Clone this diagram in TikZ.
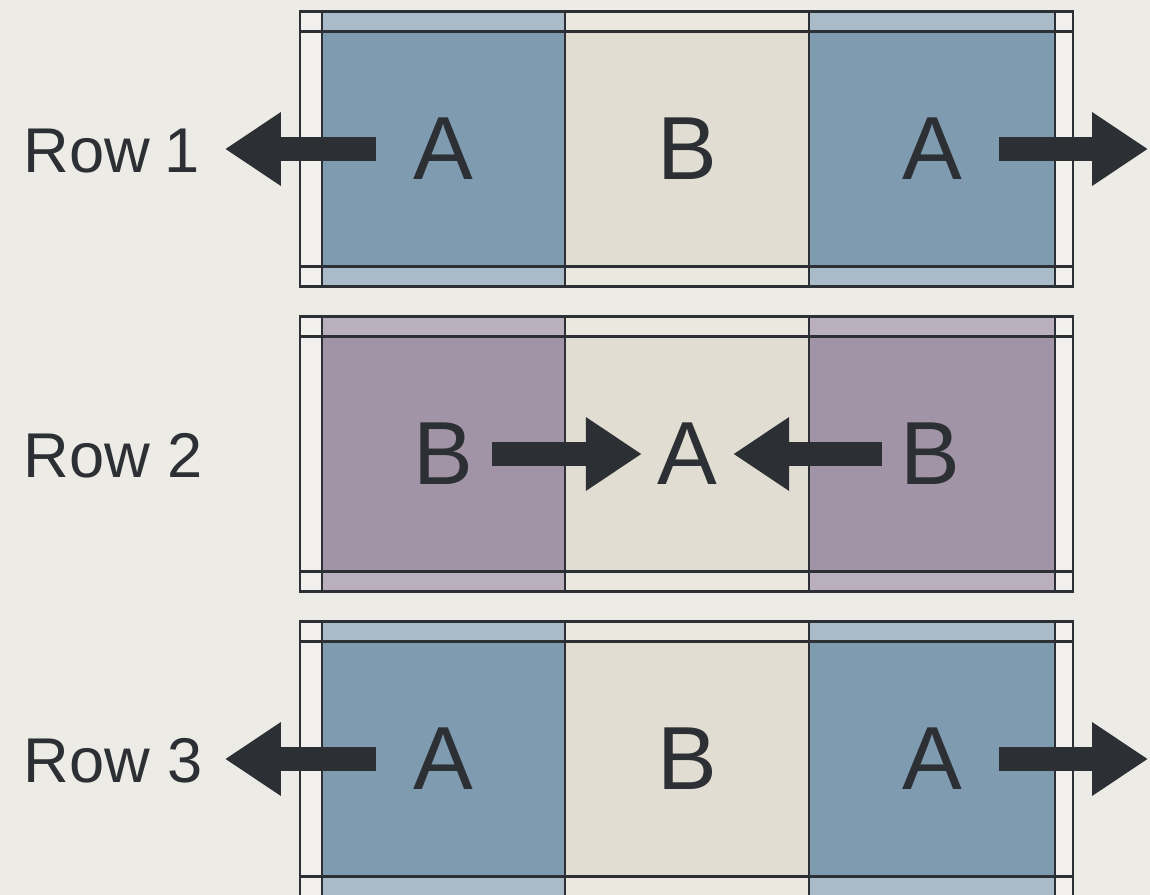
\documentclass[tikz,border=0pt]{standalone}
\usepackage{fontspec}
\setmainfont{Liberation Sans}
\usetikzlibrary{arrows.meta}
\definecolor{paper}{HTML}{ECEBE6}
\definecolor{ink}{HTML}{2C2F33}
\definecolor{strip}{HTML}{F1F0EC}
\definecolor{steel}{HTML}{7F9BAF}
\definecolor{steelband}{HTML}{A9BBC8}
\definecolor{plum}{HTML}{A194A6}
\definecolor{plumband}{HTML}{BAAFBC}
\definecolor{cream}{HTML}{E2DDD2}
\definecolor{creamband}{HTML}{EBE8E0}

\begin{document}
\begin{tikzpicture}[x=0.02cm,y=-0.02cm,
    letter/.style={inner sep=0pt,text=ink,font=\fontsize{51}{60}\selectfont},
    rowlabel/.style={inner sep=0pt,anchor=west,text=ink,font=\fontsize{36}{42}\selectfont},
    push/.style={draw=ink,line width=0.48cm,-{Triangle[length=1.12cm,width=1.4cm]}},
    frame/.style={draw=ink,line width=1.5pt}]
  \useasboundingbox (0,0) rectangle (1150,895);
  \fill[paper] (0,0) rectangle (1150,895);

  % the three frames
  \foreach \yc/\side/\sideband in {149/steel/steelband, 454/plum/plumband, 759/steel/steelband} {
    \fill[strip] (300,\yc-137.5) rectangle (1073,\yc+137.5);
    \fill[\sideband] (322,\yc-137.5) rectangle (565,\yc+137.5);
    \fill[creamband] (565,\yc-137.5) rectangle (809,\yc+137.5);
    \fill[\sideband] (809,\yc-137.5) rectangle (1055,\yc+137.5);
    \fill[\side] (322,\yc-117.5) rectangle (565,\yc+117.5);
    \fill[cream] (565,\yc-117.5) rectangle (809,\yc+117.5);
    \fill[\side] (809,\yc-117.5) rectangle (1055,\yc+117.5);
    \draw[frame] (300,\yc-137.5) rectangle (1073,\yc+137.5);
    \draw[frame] (300,\yc-117.5) -- (1073,\yc-117.5)
                 (300,\yc+117.5) -- (1073,\yc+117.5);
    \foreach \xl in {322,565,809,1055}
      \draw[frame] (\xl,\yc-137.5) -- (\xl,\yc+137.5);
  }

  % row 1
  \node[rowlabel] (lab1) at (23,151) {Row\kern-0.05em\ 1};
  \node[letter] (r1a) at (443,149) {A};
  \node[letter] (r1b) at (687,149) {B};
  \node[letter] (r1c) at (932,149) {A};
  \coordinate (r1left) at (225,149);
  \coordinate (r1right) at (1148,149);
  \draw[push, shorten <=0.74cm] (r1a.west) -- (r1left);
  \draw[push, shorten <=0.74cm] (r1c.east) -- (r1right);

  % row 2
  \node[rowlabel] (lab2) at (23,456) {Row 2};
  \node[letter] (r2a) at (443,454) {B};
  \node[letter] (r2b) at (687,454) {A};
  \node[letter] (r2c) at (930,454) {B};
  \draw[push, shorten <=0.38cm, shorten >=0.3cm] (r2a.east) -- (r2b.west);
  \draw[push, shorten <=0.36cm, shorten >=0.32cm] (r2c.west) -- (r2b.east);

  % row 3
  \node[rowlabel] (lab3) at (23,761) {Row 3};
  \node[letter] (r3a) at (443,759) {A};
  \node[letter] (r3b) at (687,759) {B};
  \node[letter] (r3c) at (932,759) {A};
  \coordinate (r3left) at (225,759);
  \coordinate (r3right) at (1148,759);
  \draw[push, shorten <=0.74cm] (r3a.west) -- (r3left);
  \draw[push, shorten <=0.74cm] (r3c.east) -- (r3right);
\end{tikzpicture}
\end{document}
